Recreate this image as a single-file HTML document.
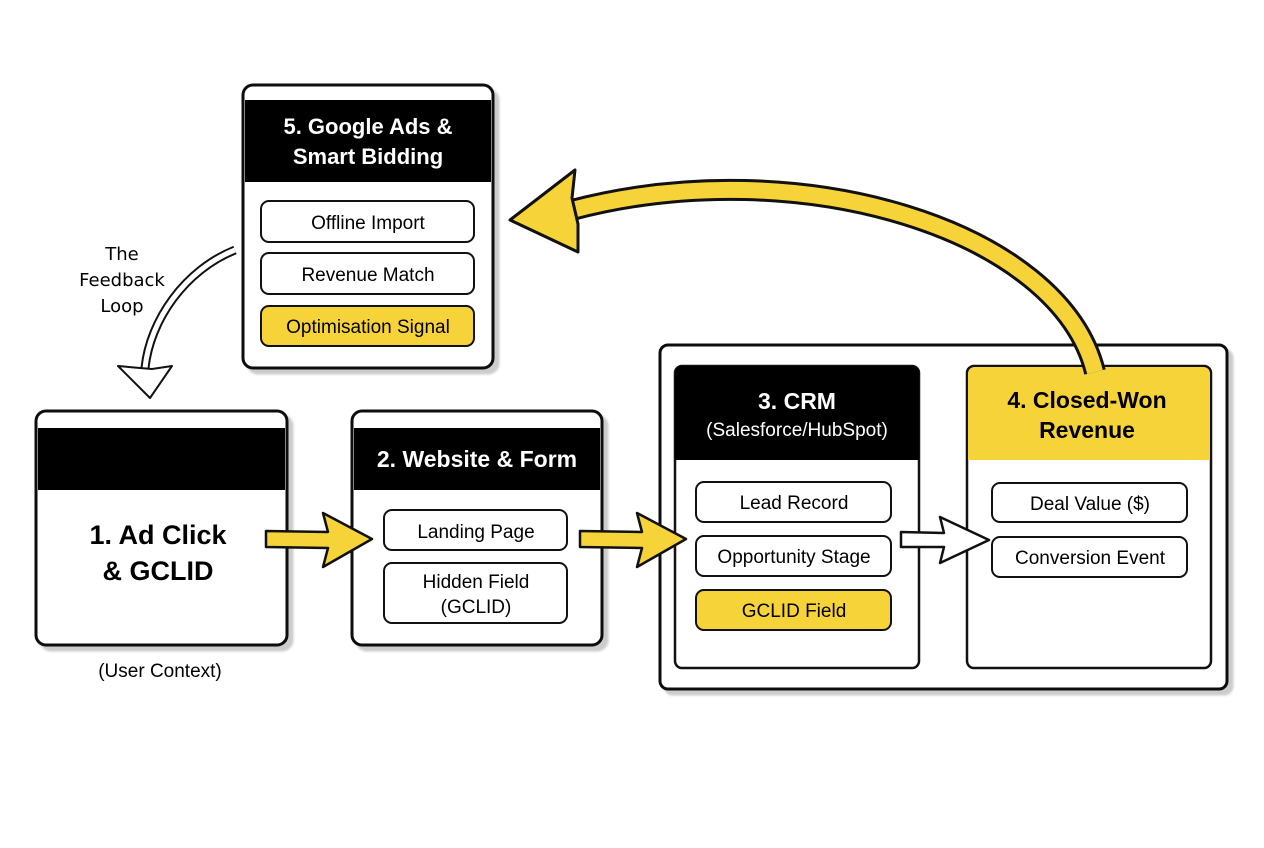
<!DOCTYPE html>
<html><head><meta charset="utf-8"><style>
html,body{margin:0;padding:0;background:#fff}
svg{display:block}
text{font-family:"Liberation Sans",sans-serif;text-anchor:middle}
</style></head><body>
<svg width="1264" height="848" viewBox="0 0 1264 848">
<defs>
<filter id="s" x="-5%" y="-5%" width="115%" height="115%"><feDropShadow dx="5" dy="5" stdDeviation="1" flood-color="#000" flood-opacity="0.2"/></filter>
</defs>
<rect width="1264" height="848" fill="#fff"/>

<!-- Box 5 -->
<g filter="url(#s)"><rect x="243" y="85" width="250" height="283" rx="10" fill="#fff" stroke="#111" stroke-width="3"/></g>
<rect x="245" y="100" width="246" height="82" fill="#000"/>
<text x="368" y="134" font-size="22" font-weight="bold" fill="#fff">5. Google Ads &amp;</text>
<text x="368" y="164" font-size="22" font-weight="bold" fill="#fff">Smart Bidding</text>
<rect x="261" y="201" width="213" height="41" rx="8" fill="#fff" stroke="#111" stroke-width="2"/>
<text x="368" y="229" font-size="19">Offline Import</text>
<rect x="261" y="253" width="213" height="41" rx="8" fill="#fff" stroke="#111" stroke-width="2"/>
<text x="368" y="281" font-size="19">Revenue Match</text>
<rect x="261" y="306" width="213" height="40" rx="8" fill="#F7D33A" stroke="#111" stroke-width="2"/>
<text x="368" y="333" font-size="19">Optimisation Signal</text>

<!-- Feedback loop -->
<text x="122" y="260" font-size="18" style="font-family:'DejaVu Sans',sans-serif">The</text>
<text x="122" y="286" font-size="18" style="font-family:'DejaVu Sans',sans-serif">Feedback</text>
<text x="122" y="312" font-size="18" style="font-family:'DejaVu Sans',sans-serif">Loop</text>
<path d="M235,250 C185,270 150,320 145,368" fill="none" stroke="#111" stroke-width="9"/>
<path d="M235,250 C185,270 150,320 145,368" fill="none" stroke="#fff" stroke-width="5"/>
<polygon points="118,366 140,368 152,369 172,366 150,398" fill="#fff" stroke="#111" stroke-width="2" stroke-linejoin="round"/>

<!-- Box 1 -->
<g filter="url(#s)"><rect x="36" y="411" width="251" height="234" rx="10" fill="#fff" stroke="#111" stroke-width="3"/></g>
<rect x="38" y="428" width="247" height="62" fill="#000"/>
<text x="158" y="544" font-size="27" font-weight="bold">1. Ad Click</text>
<text x="158" y="580" font-size="27" font-weight="bold">&amp; GCLID</text>
<text x="160" y="677" font-size="19">(User Context)</text>

<!-- Box 2 -->
<g filter="url(#s)"><rect x="352" y="411" width="250" height="234" rx="10" fill="#fff" stroke="#111" stroke-width="3"/></g>
<rect x="354" y="428" width="246" height="62" fill="#000"/>
<text x="477" y="467" font-size="23" font-weight="bold" fill="#fff">2. Website &amp; Form</text>
<rect x="384" y="510" width="183" height="40" rx="8" fill="#fff" stroke="#111" stroke-width="2"/>
<text x="476" y="538" font-size="19">Landing Page</text>
<rect x="384" y="563" width="183" height="60" rx="8" fill="#fff" stroke="#111" stroke-width="2"/>
<text x="476" y="588" font-size="19">Hidden Field</text>
<text x="476" y="613" font-size="19">(GCLID)</text>

<!-- Container -->
<g filter="url(#s)"><rect x="660" y="345" width="567" height="344" rx="8" fill="#fff" stroke="#111" stroke-width="3"/></g>
<!-- Box 3 -->
<rect x="675" y="366" width="244" height="302" rx="7" fill="#fff" stroke="#111" stroke-width="2.5"/>
<path d="M675,460 V373 a7,7 0 0 1 7,-7 H912 a7,7 0 0 1 7,7 V460 Z" fill="#000"/>
<text x="797" y="409" font-size="23" font-weight="bold" fill="#fff">3. CRM</text>
<text x="797" y="436" font-size="19" fill="#fff">(Salesforce/HubSpot)</text>
<rect x="696" y="482" width="195" height="40" rx="8" fill="#fff" stroke="#111" stroke-width="2"/>
<text x="794" y="509" font-size="19">Lead Record</text>
<rect x="696" y="536" width="195" height="40" rx="8" fill="#fff" stroke="#111" stroke-width="2"/>
<text x="794" y="563" font-size="19">Opportunity Stage</text>
<rect x="696" y="590" width="195" height="40" rx="8" fill="#F7D33A" stroke="#111" stroke-width="2"/>
<text x="794" y="617" font-size="19">GCLID Field</text>
<!-- Box 4 -->
<rect x="967" y="366" width="244" height="302" rx="7" fill="#fff" stroke="#111" stroke-width="2.5"/>
<path d="M968,460 V374 a7,7 0 0 1 7,-7 H1203 a7,7 0 0 1 7,7 V460 Z" fill="#F7D33A"/>
<text x="1087" y="408" font-size="23" font-weight="bold">4. Closed-Won</text>
<text x="1087" y="438" font-size="23" font-weight="bold">Revenue</text>
<rect x="992" y="483" width="195" height="39" rx="8" fill="#fff" stroke="#111" stroke-width="2"/>
<text x="1090" y="510" font-size="19">Deal Value ($)</text>
<rect x="992" y="537" width="195" height="40" rx="8" fill="#fff" stroke="#111" stroke-width="2"/>
<text x="1090" y="564" font-size="19">Conversion Event</text>

<!-- Yellow straight arrows -->
<polygon points="266,531 328,532 323,513 372,539 323,567 328,548 266,547" fill="#F7D33A" stroke="#111" stroke-width="2.5" stroke-linejoin="round"/>
<polygon points="580,531 642,532 637,513 686,539 637,567 642,548 580,547" fill="#F7D33A" stroke="#111" stroke-width="2.5" stroke-linejoin="round"/>
<!-- White arrow -->
<polygon points="901,532 944,533 940,517 989,540 940,563 944,547 901,547" fill="#fff" stroke="#111" stroke-width="2.5" stroke-linejoin="round"/>

<!-- Big curved yellow arrow -->
<path d="M1095,372 C1060,230 800,150 572,210" fill="none" stroke="#111" stroke-width="22"/>
<path d="M1095,372 C1060,230 800,150 572,210" fill="none" stroke="#F7D33A" stroke-width="16"/>
<polygon points="510,220 575,170 572,198 578,224 578,252" fill="#F7D33A" stroke="#111" stroke-width="3" stroke-linejoin="round"/>
</svg>
</body></html>
